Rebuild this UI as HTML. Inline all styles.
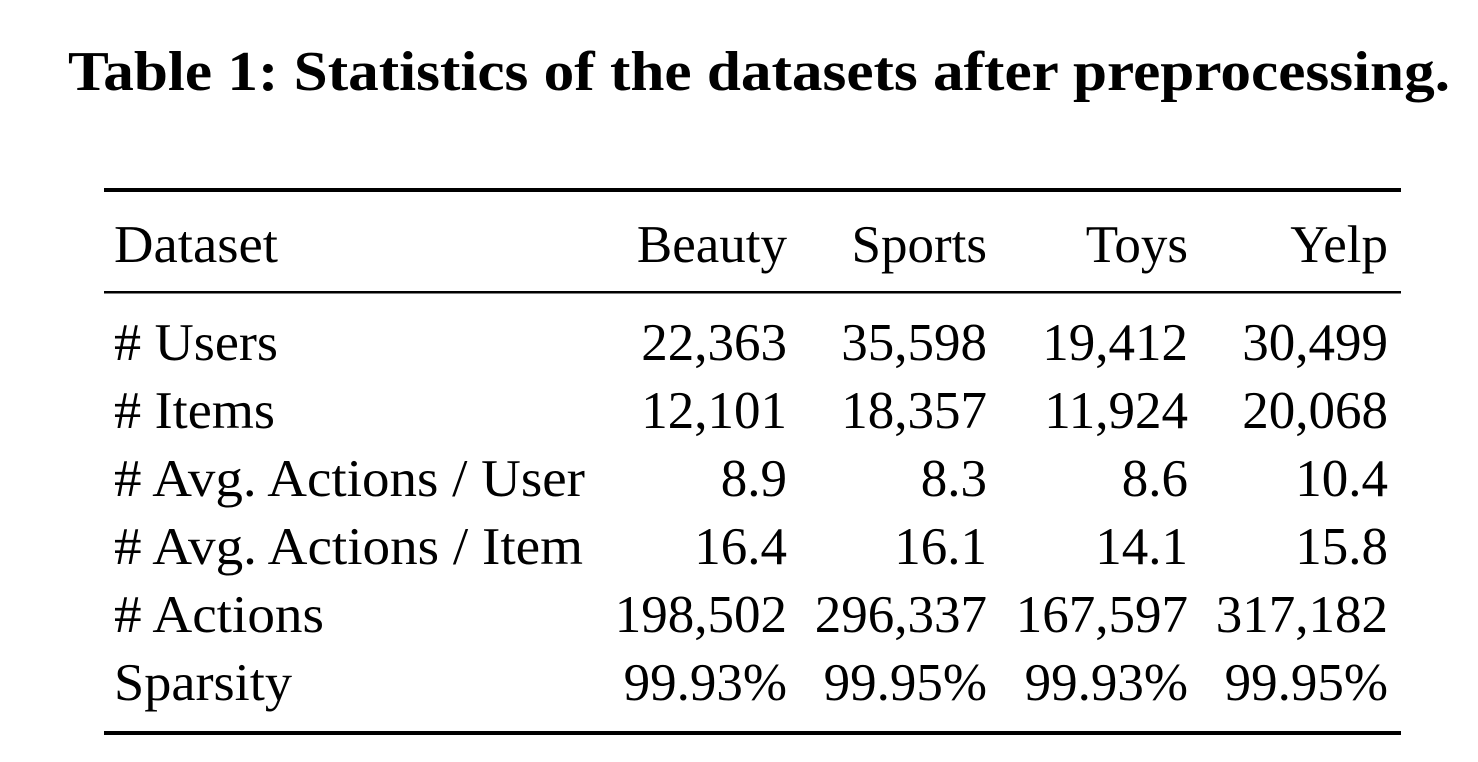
<!DOCTYPE html>
<html><head><meta charset="utf-8"><style>
html,body{margin:0;padding:0;background:#fff;}
svg{display:block;}
text{font-family:"Liberation Serif","Times New Roman",serif;fill:#000;}
</style></head><body>
<svg width="1478" height="762" viewBox="0 0 1478 762" xmlns="http://www.w3.org/2000/svg">
<text x="68" y="90" font-size="56" font-weight="bold" textLength="1382" lengthAdjust="spacingAndGlyphs">Table 1: Statistics of the datasets after preprocessing.</text>
<rect x="104" y="188" width="1297" height="4" fill="#000"/>
<rect x="104" y="291" width="1297" height="2.5" fill="#000"/>
<rect x="104" y="731" width="1297" height="4" fill="#000"/>
<g font-size="53">
<text x="114" y="262" textLength="164" lengthAdjust="spacingAndGlyphs">Dataset</text>
<g text-anchor="end">
<text x="787" y="262">Beauty</text><text x="987" y="262">Sports</text><text x="1188" y="262">Toys</text><text x="1388" y="262">Yelp</text>
</g>
<text x="114" y="360" textLength="164" lengthAdjust="spacingAndGlyphs"># Users</text>
<text x="114" y="428" textLength="161" lengthAdjust="spacingAndGlyphs"># Items</text>
<text x="114" y="496" textLength="471" lengthAdjust="spacingAndGlyphs"># Avg. Actions / User</text>
<text x="114" y="564" textLength="469" lengthAdjust="spacingAndGlyphs"># Avg. Actions / Item</text>
<text x="114" y="632" textLength="210" lengthAdjust="spacingAndGlyphs"># Actions</text>
<text x="114" y="700" textLength="178" lengthAdjust="spacingAndGlyphs">Sparsity</text>
<g text-anchor="end">
<text x="787" y="360">22,363</text><text x="987" y="360">35,598</text><text x="1188" y="360">19,412</text><text x="1388" y="360">30,499</text>
<text x="787" y="428">12,101</text><text x="987" y="428">18,357</text><text x="1188" y="428">11,924</text><text x="1388" y="428">20,068</text>
<text x="787" y="496">8.9</text><text x="987" y="496">8.3</text><text x="1188" y="496">8.6</text><text x="1388" y="496">10.4</text>
<text x="787" y="564">16.4</text><text x="987" y="564">16.1</text><text x="1188" y="564">14.1</text><text x="1388" y="564">15.8</text>
<text x="787" y="632">198,502</text><text x="987" y="632">296,337</text><text x="1188" y="632">167,597</text><text x="1388" y="632">317,182</text>
<text x="787" y="700">99.93%</text><text x="987" y="700">99.95%</text><text x="1188" y="700">99.93%</text><text x="1388" y="700">99.95%</text>
</g>
</g>
</svg>
</body></html>
